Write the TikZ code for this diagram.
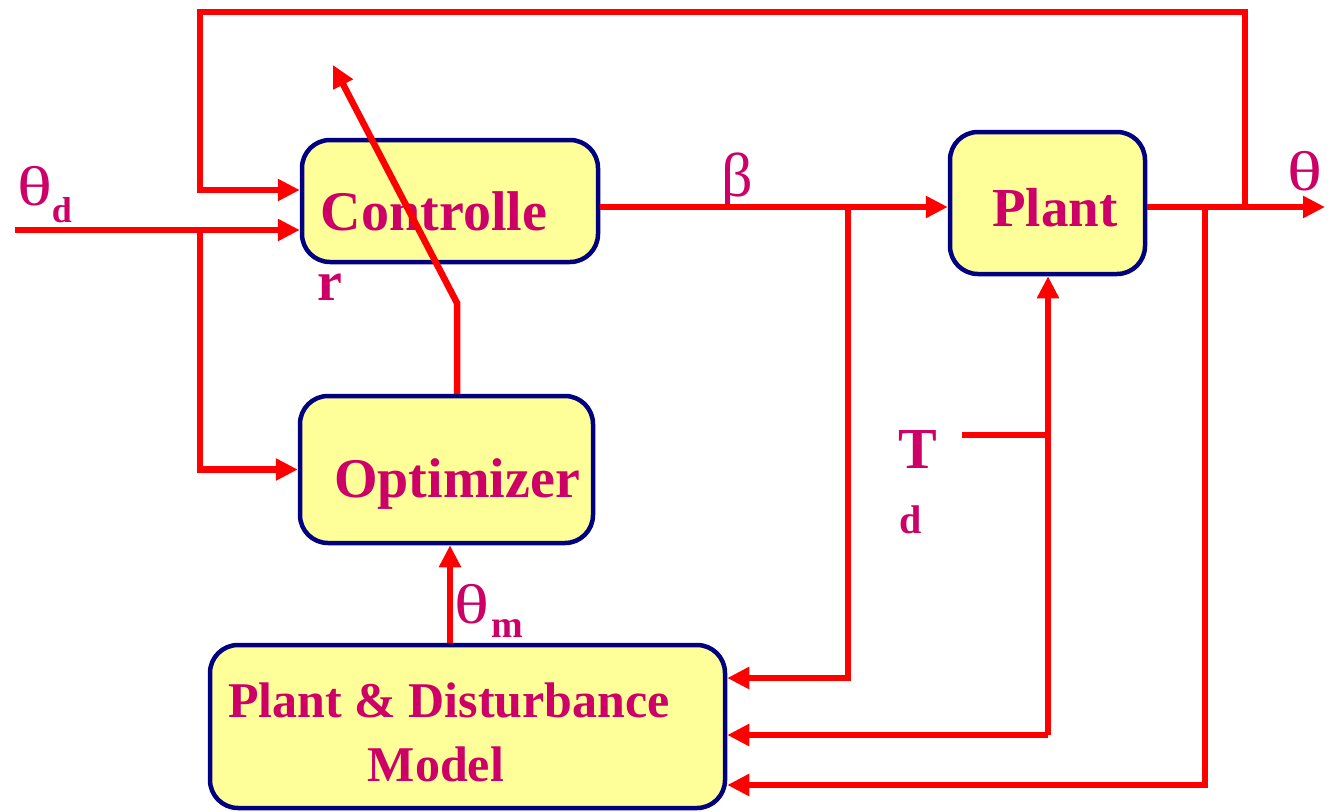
\documentclass[tikz,border=0pt]{standalone}
\usepackage{fontspec}
\usepackage{graphicx}
\setmainfont{Liberation Serif}
\usetikzlibrary{arrows.meta}
\definecolor{txt}{RGB}{204,0,102}
\definecolor{boxfill}{RGB}{255,255,153}
\definecolor{boxline}{RGB}{0,0,128}
\definecolor{wire}{RGB}{255,0,0}
\newcommand{\wth}{\scalebox{1.3}[1]{θ}}
\tikzset{
  blk/.style={draw=boxline, fill=boxfill, line width=4.5pt, rounded corners=28pt, inner sep=0pt},
  lbl/.style={text=txt, font=\bfseries\fontsize{56}{60}\selectfont, anchor=base, inner sep=0pt},
  grk/.style={text=txt, font=\fontsize{56}{60}\selectfont, anchor=base, inner sep=0pt},
  sub/.style={text=txt, font=\bfseries\fontsize{36}{40}\selectfont, anchor=base, inner sep=0pt},
  wirel/.style={draw=wire, line width=6.5pt},
  arr/.style={wirel, -{Triangle[length=22pt,width=21pt]}}
}
\begin{document}
\begin{tikzpicture}[x=1pt,y=-1pt]
\useasboundingbox (0,0) rectangle (1330,811);
% blocks
\node[blk, minimum width=296pt, minimum height=122pt] (ctrl) at (450,201) {};
\node[blk, minimum width=195pt, minimum height=142pt] (plant) at (1047.5,203) {};
\node[blk, minimum width=293pt, minimum height=147pt] (opt) at (446.5,469.5) {};
\node[blk, minimum width=515pt, minimum height=163pt] (model) at (467.5,726.5) {};
% texts
\node[lbl] (tctrl) at (434,230) {Controlle};
\node[lbl] (tr) at (330,300) {r};
\node[lbl, font=\bfseries\fontsize{55}{60}\selectfont] (tplant) at (1055,226) {Plant};
\node[lbl] (topt) at (457,497) {Optimizer};
\node[lbl, font=\bfseries\fontsize{50}{54}\selectfont] (tmod1) at (449,717) {Plant \& Disturbance};
\node[lbl, font=\bfseries\fontsize{50}{54}\selectfont] (tmod2) at (436,781) {Model};
\node[grk] (thd) at (35,205) {\wth};
\node[sub] (thdsub) at (62,222) {d};
\node[grk, font=\fontsize{62}{64}\selectfont] (tbeta) at (737,196) {β};
\node[grk] (ttheta) at (1305,190) {\wth};
\node[grk] (thm) at (472,623) {\wth};
\node[sub, font=\bfseries\fontsize{38}{40}\selectfont] (thmsub) at (507,637) {m};
\node[lbl, font=\bfseries\fontsize{58}{60}\selectfont] (tT) at (918,468) {T};
\node[sub, font=\bfseries\fontsize{40}{44}\selectfont] (tTd) at (911,533) {d};
% coordinates
\coordinate (in) at (15,230);
\coordinate (j1) at (200,230);
\coordinate (fb) at (200,12);
\coordinate (fy) at (0,190);
\coordinate (b) at (848,207);
\coordinate (j4) at (1245,207);
\coordinate (j5) at (1205,207);
\coordinate (out) at (1325,207);
\coordinate (m1) at (0,678);
\coordinate (m2) at (0,735);
\coordinate (m3) at (0,785);
\coordinate (td) at (962,435);
\coordinate (j6) at (1048,435);
\coordinate (ov) at (457,303);
\coordinate (tip) at (333,65);
% connectors
\draw[arr] (in) -- (in -| ctrl.west);
\draw[arr] (j1) |- (opt.west);
\draw[arr] (j4) |- (fb) |- (ctrl.west |- fy);
\draw[arr] (ctrl.east |- b) -- (plant.west |- b);
\draw[arr] (b) |- (model.east |- m1);
\draw[arr] (plant.east |- out) -- (out);
\draw[arr] (j5) |- (model.east |- m3);
\draw[wirel] (td) -- (j6);
\draw[arr] (j6 |- m2) -- (j6 |- plant.south);
\draw[arr] (j6 |- m2) -- (model.east |- m2);
\draw[arr] (opt.north -| ov) -- (ov) -- (tip);
\draw[arr] (model.north -| 450,0) -- (opt.south -| 450,0);
\end{tikzpicture}
\end{document}
